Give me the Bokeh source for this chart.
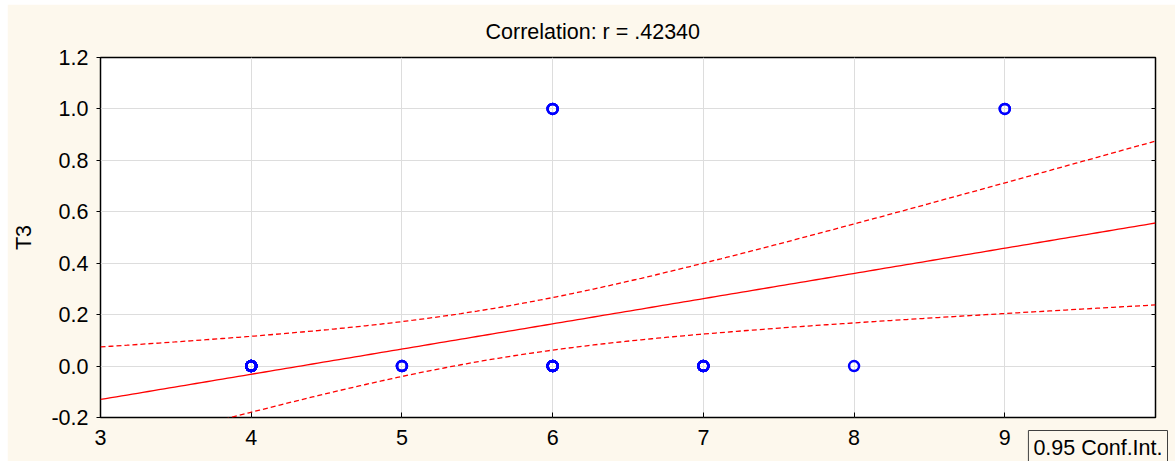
import numpy as np
from bokeh.plotting import figure
from bokeh.models import Range1d, FixedTicker, PrintfTickFormatter, LinearAxis, Title
from bokeh.embed import file_html
from bokeh.resources import INLINE

# Observations: distinct (x, T3) pairs and how many cases fall on each
x_vals = [4, 5, 6, 7, 8, 6, 9]
y_vals = [0, 0, 0, 0, 0, 1, 1]
counts = [14, 3, 10, 7, 1, 3, 2]

title_text = "Correlation: r = .42340"
y_label = "T3"
band_label = "0.95 Conf.Int."
x_ticks = [3, 4, 5, 6, 7, 8, 9]
y_ticks = [-0.2, 0.0, 0.2, 0.4, 0.6, 0.8, 1.0, 1.2]


def t975(df):
    # Cornish-Fisher expansion of the two-sided 95% Student t quantile
    z = 1.959964
    return (z + (z**3 + z) / (4 * df) + (5 * z**5 + 16 * z**3 + 3 * z) / (96 * df**2)
            + (3 * z**7 + 19 * z**5 + 17 * z**3 - 15 * z) / (384 * df**3))


x_obs = np.repeat(np.array(x_vals, float), counts)
y_obs = np.repeat(np.array(y_vals, float), counts)
n = len(x_obs)
mx, my = x_obs.mean(), y_obs.mean()
Sxx = ((x_obs - mx) ** 2).sum()
slope = ((x_obs - mx) * (y_obs - my)).sum() / Sxx
icpt = my - slope * mx
resid = y_obs - (icpt + slope * x_obs)
s = np.sqrt((resid ** 2).sum() / (n - 2))

xg = np.linspace(3, 10, 200)
fit = icpt + slope * xg
half = t975(n - 2) * s * np.sqrt(1 / n + (xg - mx) ** 2 / Sxx)

FONT = "Liberation Sans"
FSIZE = "21.5px"
CREAM = "#FDF8ED"

p = figure(frame_width=1055, frame_height=360, x_range=Range1d(3, 10), y_range=Range1d(-0.2, 1.2),
           output_backend="svg", toolbar_location=None,
           min_border_left=93, min_border_right=20, min_border_top=53, min_border_bottom=44)
p.margin = (4, 0, 0, 7)
p.border_fill_color = CREAM
p.background_fill_color = "white"
p.outline_line_color = "black"
p.outline_line_width = 1.5

p.title.text = title_text
p.title.align = "left"
p.title.vertical_align = "top"
p.title.offset = 385
p.title.standoff = 23
p.title.text_font = FONT
p.title.text_font_size = FSIZE
p.title.text_font_style = "normal"
p.title.text_color = "black"

p.xaxis.ticker = FixedTicker(ticks=x_ticks)
p.yaxis.ticker = FixedTicker(ticks=y_ticks)
p.xaxis.formatter = PrintfTickFormatter(format="%d")
p.yaxis.formatter = PrintfTickFormatter(format="%.1f")
for ax in (p.xaxis[0], p.yaxis[0]):
    ax.axis_line_color = None
    ax.minor_tick_line_color = None
    ax.major_label_text_font = FONT
    ax.major_label_text_font_size = FSIZE
    ax.major_label_text_color = "black"
    ax.major_tick_line_color = "black"
p.xaxis.major_tick_in = 5
p.xaxis.major_tick_out = 0
p.xaxis.major_label_standoff = 12
p.yaxis.major_tick_in = 0
p.yaxis.major_tick_out = 4
p.yaxis.major_label_standoff = 8
p.yaxis.axis_label = y_label
p.yaxis.axis_label_text_font = FONT
p.yaxis.axis_label_text_font_size = FSIZE
p.yaxis.axis_label_text_font_style = "normal"
p.yaxis.axis_label_text_color = "black"
p.yaxis.axis_label_standoff = 12

# inward ticks along the right edge, no labels
right = LinearAxis(ticker=FixedTicker(ticks=y_ticks), major_label_overrides={t: "" for t in y_ticks},
                   axis_line_color=None, minor_tick_line_color=None, major_tick_in=4, major_tick_out=0,
                   major_tick_line_color="black")
p.add_layout(right, "right")

p.xgrid.ticker = FixedTicker(ticks=x_ticks[1:])
p.xgrid.grid_line_color = "#DDDDDD"
p.ygrid.grid_line_color = "#DDDDDD"

p.line(xg, fit, line_color="#FF0000", line_width=1.3)
p.line(xg, fit + half, line_color="#FF0000", line_width=1.3, line_dash="5 3")
p.line(xg, fit - half, line_color="#FF0000", line_width=1.3, line_dash="5 3")
p.scatter(x_obs, y_obs, marker="circle", size=10, fill_color=None, line_color="#0000FF", line_width=2.5)

# boxed note for the confidence band, in the bottom-right corner
p.add_layout(Title(text=band_label, align="right", vertical_align="top", offset=-12, standoff=-34,
                   text_font=FONT, text_font_size=FSIZE, text_font_style="normal", text_color="black",
                   background_fill_color=CREAM, border_line_color="#404040", border_line_width=1,
                   padding=5), "below")

open("out.html", "w").write(file_html(p, INLINE))
